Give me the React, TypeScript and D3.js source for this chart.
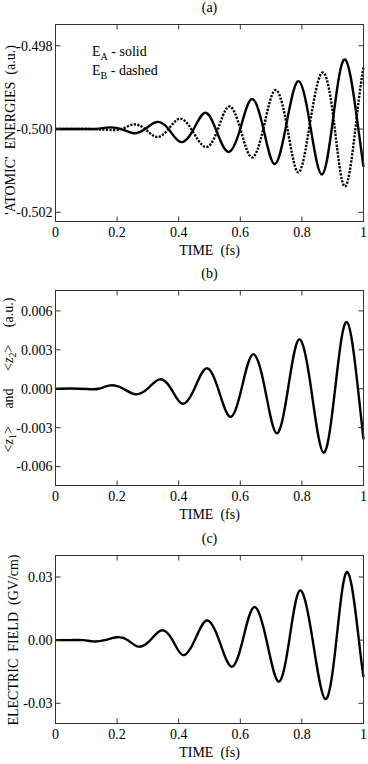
import React from 'react';
import * as d3 from 'd3';

// time axis (fs)
const xTicks = [0, 0.2, 0.4, 0.6, 0.8, 1];
const xTickLabels = ['0', '0.2', '0.4', '0.6', '0.8', '1'];

// (a) atomic energies, E_A solid / E_B dashed
const timesA = [0, 0.05, 0.1, 0.14, 0.175, 0.214, 0.253, 0.291, 0.329, 0.367, 0.405, 0.445, 0.486, 0.524, 0.562, 0.6, 0.637, 0.675, 0.712, 0.75, 0.788, 0.826, 0.865, 0.902, 0.94, 0.978, 1.0];
const energyA = [-0.5, -0.5, -0.5, -0.49999, -0.49996, -0.5, -0.5001, -0.5, -0.49983, -0.5, -0.50031, -0.50005, -0.49961, -0.50007, -0.50055, -0.49999, -0.49928, -0.49999, -0.50084, -0.49987, -0.49885, -0.49987, -0.50109, -0.49971, -0.49833, -0.49971, -0.50091];
const energyB = [-0.5, -0.5, -0.5, -0.50001, -0.50002, -0.5, -0.49989, -0.5, -0.50019, -0.5, -0.49975, -0.50005, -0.50043, -0.50007, -0.49946, -0.49999, -0.50068, -0.49999, -0.49907, -0.49987, -0.50104, -0.49987, -0.49865, -0.49971, -0.50138, -0.49971, -0.4985];
const yTicksA = [-0.502, -0.5, -0.498];
const yTickLabelsA = ['-0.502', '-0.500', '-0.498'];

// (b) dipole <z1> and <z2>
const timesZ = [0, 0.05, 0.1, 0.14, 0.179, 0.22, 0.26, 0.299, 0.338, 0.375, 0.412, 0.451, 0.49, 0.528, 0.567, 0.604, 0.641, 0.68, 0.718, 0.755, 0.791, 0.83, 0.87, 0.908, 0.946, 0.982, 1.0];
const dipoleZ = [0, 0.00002, -0.00002, 0, 0.00026, 0, -0.00043, 0, 0.00072, 0, -0.00116, 0, 0.00157, 0, -0.00216, 0, 0.00265, 0, -0.00344, 0, 0.0038, 0, -0.00493, 0, 0.00514, 0, -0.0039];
const yTicksZ = [-0.006, -0.003, 0, 0.003, 0.006];
const yTickLabelsZ = ['-0.006', '-0.003', '0.000', '0.003', '0.006'];

// (c) electric field (GV/cm)
const timesF = [0, 0.05, 0.09, 0.123, 0.16, 0.2, 0.235, 0.27, 0.308, 0.345, 0.38, 0.414, 0.452, 0.491, 0.531, 0.571, 0.608, 0.645, 0.685, 0.724, 0.759, 0.794, 0.835, 0.876, 0.912, 0.948, 0.985, 1.0];
const fieldF = [0, 0, 0, -0.0006, 0, 0.0014, 0, -0.0031, 0, 0.0047, 0, -0.0071, 0, 0.0093, 0, -0.0126, 0, 0.0157, 0, -0.0197, 0, 0.0236, 0, -0.028, 0, 0.0323, 0, -0.0176];
const yTicksF = [-0.03, 0, 0.03];
const yTickLabelsF = ['-0.03', '0.00', '0.03'];

const FONT = '"Liberation Serif", "Times New Roman", serif';
const X0 = 55.5;
const X1 = 363.5;

const x = d3.scaleLinear().domain([0, 1]).range([X0, X1]);

type Series = { t: number[]; v: number[]; dash?: string };

type PanelProps = {
  top: number;
  bottom: number;
  yDomain: [number, number];
  yTicks: number[];
  yTickLabels: string[];
  series: Series[];
  title: string;
  yLabel: React.ReactNode;
  yLabelX: number;
  yLabelY: number;
  children?: React.ReactNode;
};

function Panel(p: PanelProps) {
  const y = d3.scaleLinear().domain(p.yDomain).range([p.bottom, p.top]);
  const cx = (X0 + X1) / 2;
  return (
    <g>
      {p.series.map((s, i) => {
        const line = d3
          .line<number>()
          .x((_, j) => x(s.t[j]))
          .y((d) => y(d))
          .curve(d3.curveNatural);
        return (
          <path
            key={i}
            d={line(s.v) || ''}
            fill="none"
            stroke="#000"
            strokeWidth={2.4}
            strokeDasharray={s.dash}
          />
        );
      })}
      <rect
        x={X0}
        y={p.top}
        width={X1 - X0}
        height={p.bottom - p.top}
        fill="none"
        stroke="#333"
        strokeWidth={1}
      />
      {xTicks.map((t, i) => (
        <g key={'x' + i}>
          <line x1={x(t)} x2={x(t)} y1={p.bottom} y2={p.bottom - 5} stroke="#333" />
          <line x1={x(t)} x2={x(t)} y1={p.top} y2={p.top + 5} stroke="#333" />
          <text x={x(t)} y={p.bottom + 15} textAnchor="middle" fontSize={14}>
            {xTickLabels[i]}
          </text>
        </g>
      ))}
      {p.yTicks.map((v, i) => (
        <g key={'y' + i}>
          <line x1={X0} x2={X0 + 5} y1={y(v)} y2={y(v)} stroke="#333" />
          <line x1={X1} x2={X1 - 5} y1={y(v)} y2={y(v)} stroke="#333" />
          <text x={X0 - 3} y={y(v)} dy="0.35em" textAnchor="end" fontSize={14}>
            {p.yTickLabels[i]}
          </text>
        </g>
      ))}
      <text x={cx} y={p.top - 13} textAnchor="middle" fontSize={14}>
        {p.title}
      </text>
      <text x={cx} y={p.bottom + 33} textAnchor="middle" fontSize={14} style={{ whiteSpace: 'pre' }}>
        {'TIME  (fs)'}
      </text>
      <text
        transform={`translate(${p.yLabelX},${p.yLabelY}) rotate(-90)`}
        textAnchor="middle"
        fontSize={14}
        style={{ whiteSpace: 'pre' }}
      >
        {p.yLabel}
      </text>
      {p.children}
    </g>
  );
}

export default function App() {
  return (
    <svg
      width={368}
      height={764}
      style={{ position: 'absolute', left: 0, top: 0, background: '#fff' }}
      fontFamily={FONT}
    >
      <rect width={368} height={764} fill="#fff" />
      <Panel
        top={24.5}
        bottom={221.5}
        yDomain={[-0.50222, -0.49749]}
        yTicks={yTicksA}
        yTickLabels={yTickLabelsA}
        series={[
          { t: timesA, v: energyB, dash: '2.2,1.4' },
          { t: timesA, v: energyA },
        ]}
        title="(a)"
        yLabel={"'ATOMIC'  ENERGIES  (a.u.)"}
        yLabelX={14.5}
        yLabelY={130}
      >
        <text x={92} y={56} fontSize={14}>
          E<tspan fontSize={10} dy={4}>A</tspan>
          <tspan dy={-4}>{' - solid'}</tspan>
        </text>
        <text x={92} y={75} fontSize={14}>
          E<tspan fontSize={10} dy={4}>B</tspan>
          <tspan dy={-4}>{' - dashed'}</tspan>
        </text>
      </Panel>
      <Panel
        top={290.5}
        bottom={485.5}
        yDomain={[-0.00746, 0.00757]}
        yTicks={yTicksZ}
        yTickLabels={yTickLabelsZ}
        series={[{ t: timesZ, v: dipoleZ }]}
        title="(b)"
        yLabel={
          <>
            {'<'}
            <tspan fontStyle="italic">z</tspan>
            <tspan fontSize={10} dy={3}>1</tspan>
            <tspan dy={-3}>{'>     and     <'}</tspan>
            <tspan fontStyle="italic">z</tspan>
            <tspan fontSize={10} dy={3}>2</tspan>
            <tspan dy={-3}>{'>     (a.u.)'}</tspan>
          </>
        }
        yLabelX={12.5}
        yLabelY={375}
      />
      <Panel
        top={555.5}
        bottom={723.5}
        yDomain={[-0.0396, 0.0402]}
        yTicks={yTicksF}
        yTickLabels={yTickLabelsF}
        series={[{ t: timesF, v: fieldF }]}
        title="(c)"
        yLabel={'ELECTRIC  FIELD  (GV/cm)'}
        yLabelX={17.5}
        yLabelY={640}
      />
    </svg>
  );
}
